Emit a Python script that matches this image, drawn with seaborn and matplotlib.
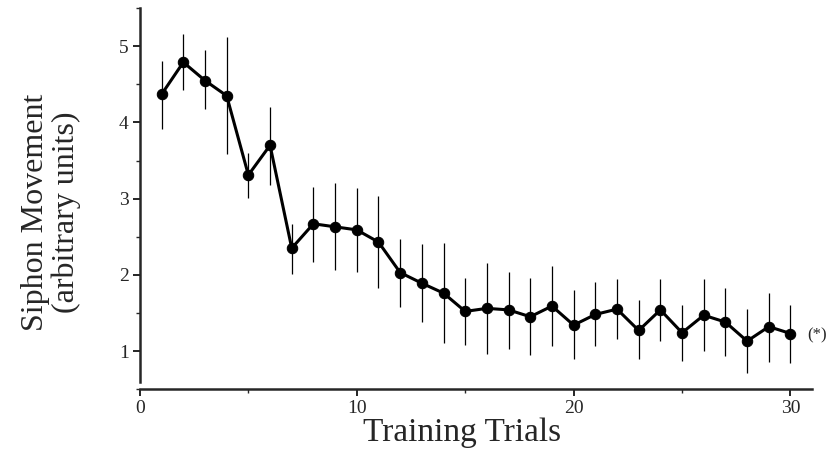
import numpy as np
import pandas as pd
import matplotlib
matplotlib.use("Agg")
import matplotlib.pyplot as plt
import seaborn as sns
from matplotlib.ticker import MultipleLocator

trials = list(range(1, 31))
mean = [4.37, 4.79, 4.55, 4.35, 3.31, 3.70, 2.35, 2.67, 2.63, 2.59,
        2.43, 2.03, 1.89, 1.76, 1.52, 1.56, 1.54, 1.45, 1.59, 1.34,
        1.48, 1.55, 1.27, 1.54, 1.24, 1.47, 1.38, 1.13, 1.32, 1.23]
upper = [4.80, 5.16, 4.95, 5.12, 3.60, 4.20, 2.67, 3.15, 3.21, 3.14,
         3.04, 2.47, 2.41, 2.42, 1.96, 2.16, 2.04, 1.96, 2.11, 1.80,
         1.90, 1.95, 1.67, 1.94, 1.61, 1.94, 1.83, 1.55, 1.76, 1.60]
lower = [3.92, 4.42, 4.17, 3.59, 3.01, 3.18, 2.01, 2.17, 2.06, 2.04,
         1.83, 1.58, 1.38, 1.11, 1.08, 0.96, 1.03, 0.95, 1.07, 0.89,
         1.07, 1.16, 0.89, 1.13, 0.87, 1.00, 0.93, 0.71, 0.86, 0.84]
x_ticks = [0, 10, 20, 30]
y_ticks = [1, 2, 3, 4, 5]
x_label = "Training Trials"
y_label = "Siphon Movement\n(arbitrary units)"
note = "(*)"

df = pd.DataFrame({"trial": trials, "mean": mean, "lo": lower, "hi": upper})

sns.set_style("ticks")
plt.rcParams["font.family"] = ["Liberation Serif", "DejaVu Serif"]

fig = plt.figure(figsize=(8.33, 4.53), dpi=100)
ax = fig.add_axes([0.168, 0.141, 0.807, 0.841])

ax.vlines(df["trial"], df["lo"], df["hi"], color="black", linewidth=0.9, zorder=2)
sns.lineplot(data=df, x="trial", y="mean", ax=ax, color="black", linewidth=2.2,
             marker="o", markersize=7.5, markeredgecolor="black",
             markerfacecolor="black", zorder=3)

ax.set_xlim(0, 31)
ax.set_ylim(0.5, 5.5)
ax.set_xticks(x_ticks)
ax.set_yticks(y_ticks)
ax.xaxis.set_minor_locator(MultipleLocator(5))
ax.yaxis.set_minor_locator(MultipleLocator(0.5))
ax.tick_params(axis="both", which="major", labelsize=14, length=5, width=1.2,
               direction="out", color="black", pad=3)
ax.tick_params(axis="both", which="minor", length=3, width=1.0, direction="out")
for s in ["top", "right"]:
    ax.spines[s].set_visible(False)
ax.spines["left"].set_linewidth(1.8)
ax.spines["bottom"].set_linewidth(1.8)
ax.spines["left"].set_bounds(0.6, 5.5)

ax.set_xlabel(x_label, fontsize=24)
ax.xaxis.set_label_coords(0.479, -0.074)
ax.set_ylabel(y_label, fontsize=23, linespacing=1.05)
ax.yaxis.set_label_coords(-0.088, 0.465)

ax.annotate(note, xy=(30.75, 1.2), xycoords="data", fontsize=12,
            ha="left", va="center", annotation_clip=False)

fig.savefig("out.png", dpi=100)
